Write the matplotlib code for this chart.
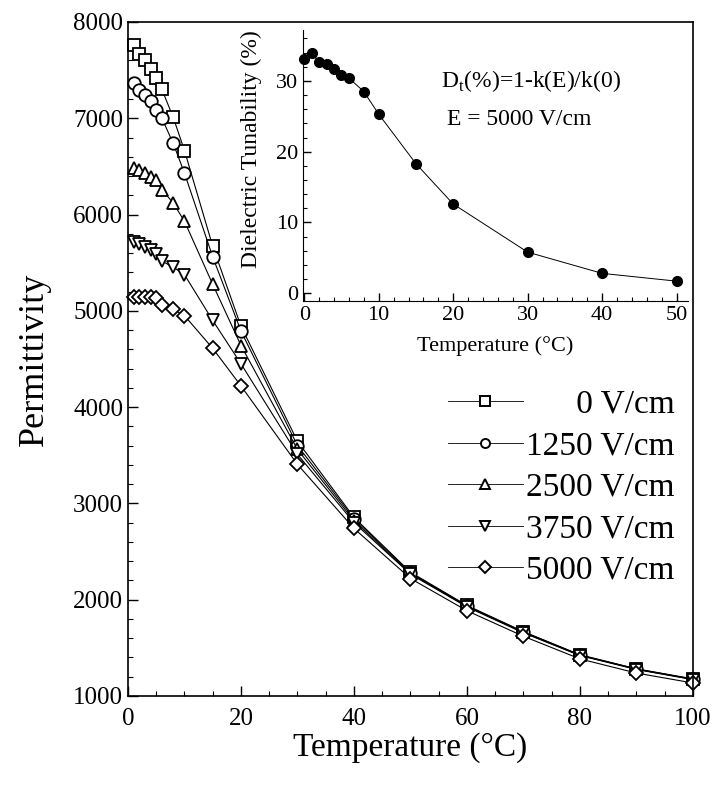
import matplotlib
matplotlib.use("Agg")
import matplotlib.pyplot as plt
from matplotlib.ticker import MultipleLocator

plt.rcParams['font.family'] = ['Liberation Serif', 'DejaVu Serif']
plt.rcParams['mathtext.fontset'] = 'custom'
plt.rcParams['mathtext.rm'] = 'Liberation Serif'

# permittivity vs temperature for each bias field
temps = [1, 2, 3, 4, 5, 6, 8, 10, 15, 20, 30, 40, 50, 60, 70, 80, 90, 100]
eps_0 = [7760, 7670, 7600, 7510, 7415, 7300, 7010, 6665, 5670, 4840, 3645, 2855, 2285, 1940, 1668, 1428, 1282, 1178]
eps_1250 = [7365, 7295, 7245, 7175, 7090, 7000, 6740, 6430, 5560, 4790, 3600, 2840, 2280, 1935, 1665, 1425, 1280, 1175]
eps_2500 = [6485, 6465, 6430, 6395, 6360, 6260, 6120, 5930, 5275, 4640, 3560, 2820, 2270, 1930, 1660, 1422, 1278, 1172]
eps_3750 = [5720, 5690, 5660, 5635, 5595, 5515, 5455, 5375, 4900, 4450, 3510, 2800, 2265, 1925, 1655, 1420, 1275, 1170]
eps_5000 = [5140, 5140, 5145, 5140, 5130, 5065, 5015, 4950, 4610, 4220, 3405, 2740, 2220, 1885, 1620, 1385, 1238, 1135]
labels = ["0 V/cm", "1250 V/cm", "2500 V/cm", "3750 V/cm", "5000 V/cm"]
markers = ["s", "o", "^", "v", "D"]

# inset: tunability at 5000 V/cm
temps_in = [0, 1, 2, 3, 4, 5, 6, 8, 10, 15, 20, 30, 40, 50]
tunability = [33.1, 33.9, 32.7, 32.4, 31.7, 30.9, 30.4, 28.5, 25.3, 18.3, 12.6, 5.8, 2.8, 1.7]

fig = plt.figure(figsize=(7.15, 7.85), dpi=100)
ax = fig.add_axes([0.179, 0.1134, 0.7902, 0.8586])

series = [eps_0, eps_1250, eps_2500, eps_3750, eps_5000]
for ys, mk, lab in zip(series, markers, labels):
    ms = 7.5 if mk == "D" else 9
    # pad short labels so the legend text lines up on the right
    pad = " " * 6 if len(lab) < 9 else ""
    ax.plot(temps, ys, color="black", lw=0.8, marker=mk, ms=ms, mfc="white",
            mec="black", mew=1.3, clip_on=False, label=pad + lab)

ax.set_xlim(0, 100)
ax.set_ylim(1000, 8000)
ax.xaxis.set_major_locator(MultipleLocator(20))
ax.xaxis.set_minor_locator(MultipleLocator(5))
ax.yaxis.set_major_locator(MultipleLocator(1000))
ax.yaxis.set_minor_locator(MultipleLocator(200))
ax.tick_params(which="both", direction="in", labelsize=18, top=False, right=False)
ax.tick_params(which="major", length=7, width=1)
ax.tick_params(which="minor", length=3.5, width=0.8)
ax.tick_params(axis="x", pad=9)
for s in ax.spines.values():
    s.set_linewidth(1.2)
ax.set_xlabel("Temperature (°C)", fontsize=24, labelpad=1)
ax.set_ylabel("Permittivity", fontsize=26, labelpad=16)

leg = ax.legend(loc="upper left", bbox_to_anchor=(0.566, 0.455), frameon=False,
                fontsize=24, handlelength=2.25, handletextpad=0.1, labelspacing=0.33,
                borderpad=0, borderaxespad=0)
for h in leg.legend_handles:
    h.set_markersize(6.5)
    h.set_linewidth(0.6)
    h.set_markeredgewidth(1.4)

ins = fig.add_axes([0.4234, 0.6166, 0.5386, 0.3452])
ins.patch.set_alpha(0)
ins.plot(temps_in, tunability, color="black", lw=0.7, marker="o", ms=7, mfc="black", clip_on=False)
ins.set_xlim(-0.2, 51.5)
ins.set_ylim(-1.1, 37.2)
ins.spines["top"].set_visible(False)
ins.spines["right"].set_visible(False)
ins.xaxis.set_major_locator(MultipleLocator(10))
ins.xaxis.set_minor_locator(MultipleLocator(2))
ins.yaxis.set_major_locator(MultipleLocator(10))
ins.yaxis.set_minor_locator(MultipleLocator(2))
ins.tick_params(which="both", direction="in", labelsize=16)
ins.tick_params(which="major", length=6, width=1)
ins.tick_params(which="minor", length=3, width=0.8)
ins.set_xlabel("Temperature (°C)", fontsize=16, labelpad=8)
ins.set_ylabel("Dielectric Tunability (%)", fontsize=17)
ins.yaxis.set_label_coords(-0.105, 0.56)
ins.text(0.36, 0.81, r"D$_\mathregular{t}$(%)=1-k(E)/k(0)", transform=ins.transAxes,
         fontsize=17, va="center")
ins.text(0.375, 0.668, "E = 5000 V/cm", transform=ins.transAxes, fontsize=17, va="center")

fig.savefig("out.png", dpi=100)
